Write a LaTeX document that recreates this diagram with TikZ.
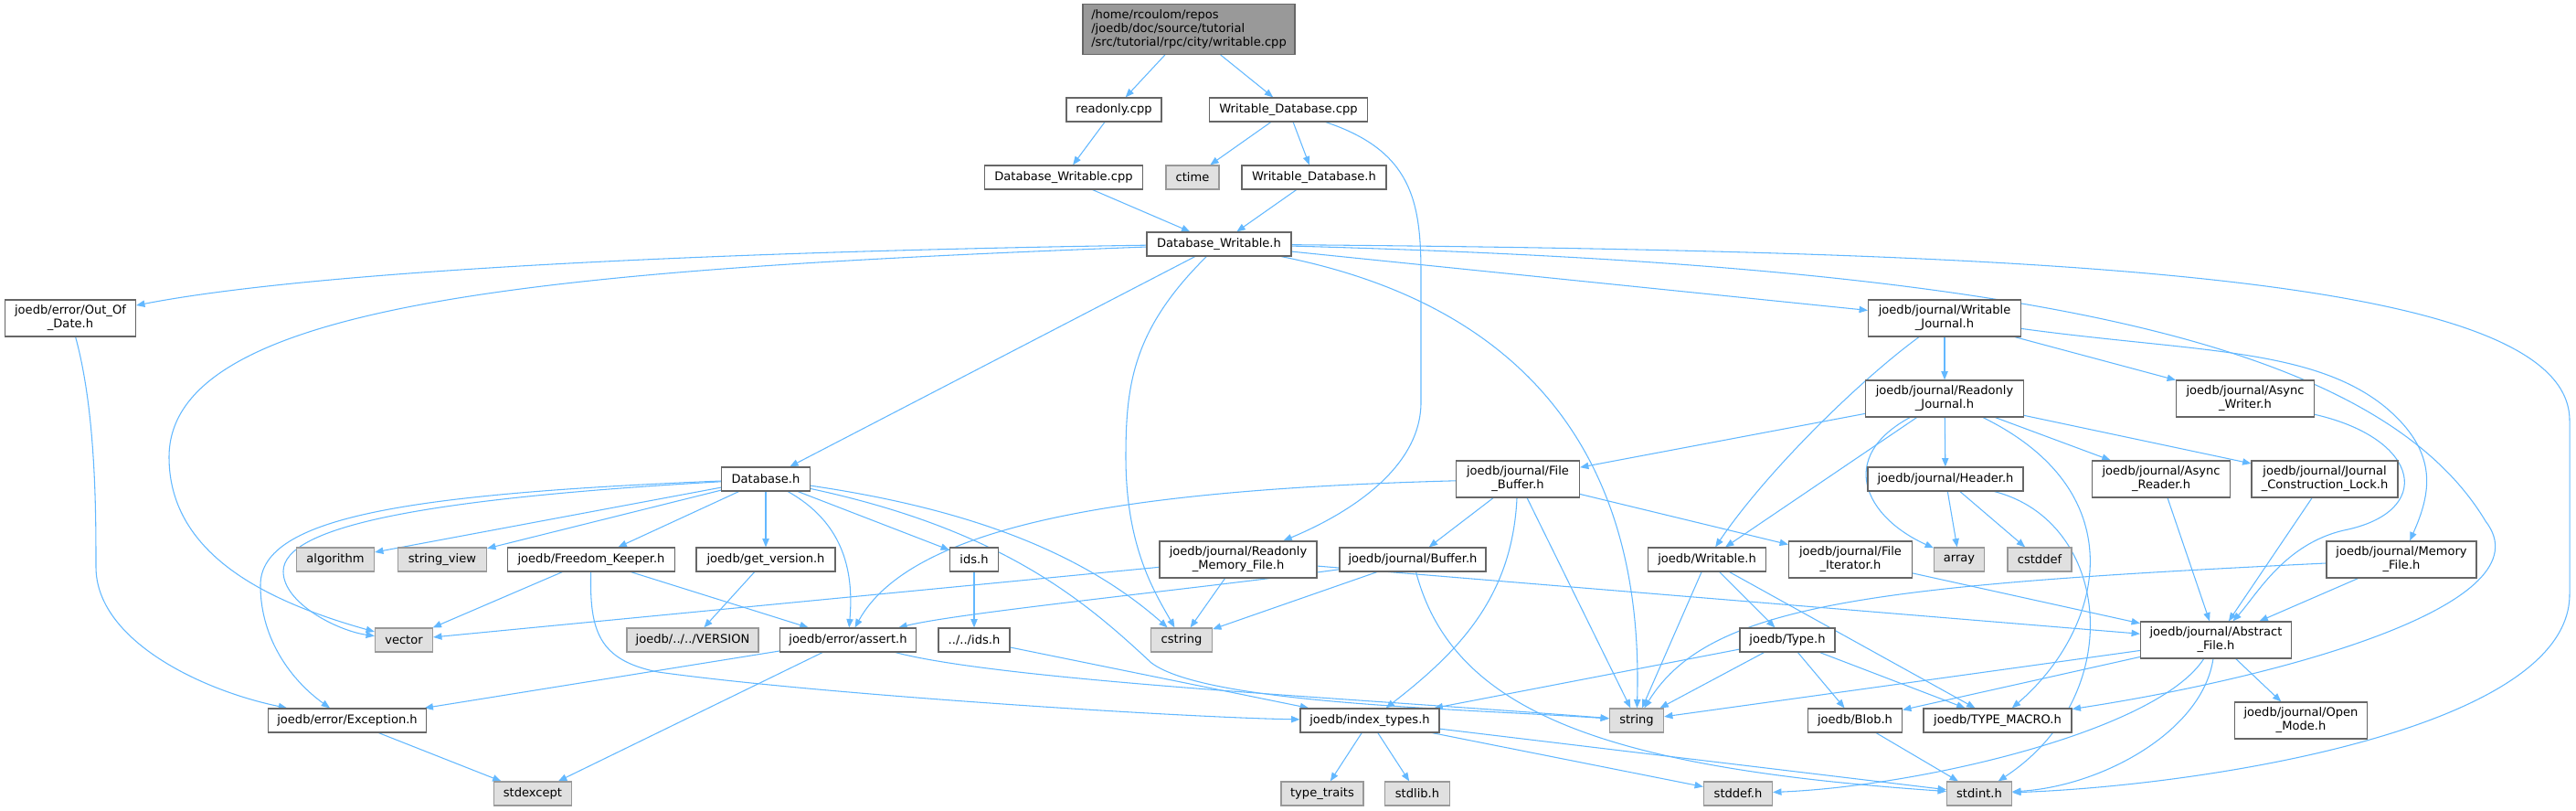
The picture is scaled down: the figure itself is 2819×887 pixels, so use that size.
\documentclass[tikz,border=0pt]{standalone}
\usepackage{fontspec}
\setmainfont{DejaVu Sans}
\usetikzlibrary{arrows.meta,backgrounds}

\definecolor{edgeblue}{HTML}{63B8FF}
\definecolor{boxline}{HTML}{666666}
\definecolor{sysline}{HTML}{999999}
\definecolor{sysfill}{HTML}{E0E0E0}
\definecolor{rootfill}{HTML}{999999}

\begin{document}
\begin{tikzpicture}[
		x=0.75pt, y=-0.75pt,
		>={Triangle[length=7pt,width=5.5pt]},
		file/.style = {draw=boxline, fill=white, line width=0.9pt, inner xsep=2pt, inner ysep=2pt,
			minimum height=19.5pt, align=center, font=\fontsize{9.8}{11.3}\selectfont},
		sys/.style = {file, draw=sysline, fill=sysfill},
		start/.style = {file, fill=rootfill, align=left, minimum height=41pt},
		two/.style = {minimum height=30pt},
		bw/.style = {minimum width=#1*0.75pt},
		dep/.style = {->, draw=edgeblue, line width=0.8pt}
	]
	\useasboundingbox (0,0) rectangle (2819,887);
	% files
	\node[start, bw=232] (root) at (1301,32) {/home/rcoulom/repos\\/joedb/doc/source/tutorial\\/src/tutorial/rpc/city/writable.cpp};
	\node[file, bw=104] (rocpp) at (1219,120) {readonly.cpp};
	\node[file, bw=173] (wdbcpp) at (1410,120) {Writable\_Database.cpp};
	\node[file, bw=173] (dwcpp) at (1164,194) {Database\_Writable.cpp};
	\node[sys, bw=58] (ctime) at (1305,194) {ctime};
	\node[file, bw=158] (wdbh) at (1438,194) {Writable\_Database.h};
	\node[file, bw=158] (dwh) at (1334,267) {Database\_Writable.h};
	\node[file, two, bw=143] (ood) at (77,348) {joedb/error/Out\_Of\\\_Date.h};
	\node[file, two, bw=167] (wj) at (2128,348) {joedb/journal/Writable\\\_Journal.h};
	\node[file, two, bw=173] (rj) at (2128,436) {joedb/journal/Readonly\\\_Journal.h};
	\node[file, two, bw=151] (aw) at (2457,436) {joedb/journal/Async\\\_Writer.h};
	\node[file, bw=97] (dbh) at (838,524) {Database.h};
	\node[file, two, bw=135] (fb) at (1661,524) {joedb/journal/File\\\_Buffer.h};
	\node[file, bw=170] (hdr) at (2129,524) {joedb/journal/Header.h};
	\node[file, two, bw=151] (ar) at (2365,524) {joedb/journal/Async\\\_Reader.h};
	\node[file, two, bw=160] (jcl) at (2544,524) {joedb/journal/Journal\\\_Construction\_Lock.h};
	\node[sys, bw=85] (alg) at (367,612) {algorithm};
	\node[sys, bw=97] (sv) at (484,612) {string\_view};
	\node[file, bw=183] (fk) at (647,612) {joedb/Freedom\_Keeper.h};
	\node[file, bw=152] (gv) at (838,612) {joedb/get\_version.h};
	\node[file, bw=53] (ids) at (1066,612) {ids.h};
	\node[file, two, bw=172] (rmf) at (1355,612) {joedb/journal/Readonly\\\_Memory\_File.h};
	\node[file, bw=160] (buf) at (1546,612) {joedb/journal/Buffer.h};
	\node[file, bw=129] (wr) at (1868,612) {joedb/Writable.h};
	\node[file, two, bw=135] (fi) at (2025,612) {joedb/journal/File\\\_Iterator.h};
	\node[sys, bw=55] (arr) at (2144,612) {array};
	\node[sys, bw=70] (cstddef) at (2232,612) {cstddef};
	\node[file, two, bw=164] (mf) at (2628,612) {joedb/journal/Memory\\\_File.h};
	\node[sys, bw=63] (vec) at (442,700) {vector};
	\node[sys, bw=144] (ver) at (758,700) {joedb/../../VERSION};
	\node[file, bw=149] (asrt) at (928,700) {joedb/error/assert.h};
	\node[file, bw=78] (ids2) at (1066,700) {../../ids.h};
	\node[sys, bw=67] (cstr) at (1293,700) {cstring};
	\node[file, bw=104] (typ) at (1956,700) {joedb/Type.h};
	\node[file, two, bw=165] (af) at (2425,700) {joedb/journal/Abstract\\\_File.h};
	\node[file, bw=173] (exc) at (380,788) {joedb/error/Exception.h};
	\node[file, bw=152] (it) at (1499,788) {joedb/index\_types.h};
	\node[sys, bw=59] (str) at (1791,788) {string};
	\node[file, bw=103] (blob) at (2030,788) {joedb/Blob.h};
	\node[file, bw=162] (tm) at (2186,788) {joedb/TYPE\_MACRO.h};
	\node[file, two, bw=145] (om) at (2518,788) {joedb/journal/Open\\\_Mode.h};
	\node[sys, bw=85] (sexc) at (583,868) {stdexcept};
	\node[sys, bw=90] (tt) at (1447,868) {type\_traits};
	\node[sys, bw=71] (sl) at (1551,868) {stdlib.h};
	\node[sys, bw=75] (sd) at (1902,868) {stddef.h};
	\node[sys, bw=71] (si) at (2166,868) {stdint.h};
	\begin{scope}[on background layer]
	% top
	\draw[dep] (root) -- (rocpp);
	\draw[dep] (root) -- (wdbcpp);
	\draw[dep] (rocpp) -- (dwcpp);
	\draw[dep] (wdbcpp) -- (ctime);
	\draw[dep] (wdbcpp) -- (wdbh);
	\draw[dep] (wdbcpp) .. controls (1545,165) and (1555,220) .. (1555,300) -- (1555,440) .. controls (1555,510) and (1480,560) .. (rmf);
	\draw[dep] (dwcpp) -- (dwh);
	\draw[dep] (wdbh) -- (dwh);
	% Database_Writable.h
	\draw[dep] (dwh) .. controls (800,275) and (350,295) .. (ood);
	\draw[dep] (dwh) .. controls (600,295) and (185,330) .. (185,500) .. controls (185,610) and (300,660) .. (vec);
	\draw[dep] (dwh) -- (dbh);
	\draw[dep] (dwh) .. controls (1240,360) and (1232,420) .. (1232,500) .. controls (1232,600) and (1265,650) .. (cstr);
	\draw[dep] (dwh) .. controls (1650,330) and (1800,480) .. (str);
	\draw[dep] (dwh) -- (wj);
	\draw[dep] (dwh) .. controls (2200,290) and (2600,370) .. (2720,570) .. controls (2790,660) and (2500,740) .. (tm);
	\draw[dep] (dwh) .. controls (2250,275) and (2812,300) .. (2812,460) -- (2812,650) .. controls (2812,800) and (2400,860) .. (si);
	\draw[dep] (ood) .. controls (105,450) and (105,560) .. (105,620) .. controls (105,700) and (220,755) .. (exc);
	% Database.h
	\draw[dep] (dbh) -- (alg);
	\draw[dep] (dbh) -- (sv);
	\draw[dep] (dbh) -- (fk);
	\draw[dep] (dbh) -- (gv);
	\draw[dep] (dbh) -- (ids);
	\draw[dep] (dbh) .. controls (920,570) and (935,620) .. (asrt);
	\draw[dep] (dbh) .. controls (1050,555) and (1180,600) .. (cstr);
	\draw[dep] (dbh) .. controls (1100,580) and (1190,660) .. (1260,725) .. controls (1320,770) and (1600,775) .. (str);
	\draw[dep] (dbh) .. controls (450,540) and (285,565) .. (285,640) .. controls (285,700) and (320,745) .. (exc);
	\draw[dep] (dbh) .. controls (470,545) and (310,575) .. (310,625) .. controls (310,660) and (370,690) .. (vec);
	\draw[dep] (fk) -- (vec);
	\draw[dep] (fk) -- (asrt);
	\draw[dep] (fk) .. controls (645,690) and (655,722) .. (720,735) .. controls (900,760) and (1300,785) .. (it);
	\draw[dep] (gv) -- (ver);
	\draw[dep] (ids) -- (ids2);
	\draw[dep] (ids2) -- (it);
	\draw[dep] (rmf) -- (vec);
	\draw[dep] (rmf) -- (cstr);
	\draw[dep] (rmf) -- (af);
	\draw[dep] (buf) .. controls (1300,645) and (1050,670) .. (asrt);
	\draw[dep] (buf) -- (cstr);
	\draw[dep] (buf) .. controls (1590,780) and (1760,840) .. (si);
	% journal
	\draw[dep] (wj) -- (rj);
	\draw[dep] (wj) -- (aw);
	\draw[dep] (wj) .. controls (2030,420) and (1930,520) .. (wr);
	\draw[dep] (wj) .. controls (2400,385) and (2530,380) .. (2610,445) .. controls (2670,495) and (2660,540) .. (mf);
	\draw[dep] (rj) -- (fb);
	\draw[dep] (rj) -- (wr);
	\draw[dep] (rj) .. controls (2010,500) and (2040,565) .. (arr);
	\draw[dep] (rj) -- (hdr);
	\draw[dep] (rj) -- (ar);
	\draw[dep] (rj) -- (jcl);
	\draw[dep] (rj) .. controls (2340,540) and (2300,690) .. (tm);
	\draw[dep] (aw) .. controls (2650,480) and (2665,560) .. (2565,580) .. controls (2500,595) and (2470,650) .. (af);
	\draw[dep] (ar) -- (af);
	\draw[dep] (jcl) -- (af);
	\draw[dep] (hdr) -- (arr);
	\draw[dep] (hdr) -- (cstddef);
	\draw[dep] (hdr) .. controls (2310,570) and (2330,760) .. (si);
	\draw[dep] (fb) .. controls (1250,535) and (1000,570) .. (asrt);
	\draw[dep] (fb) -- (buf);
	\draw[dep] (fb) .. controls (1655,650) and (1600,710) .. (it);
	\draw[dep] (fb) -- (str);
	\draw[dep] (fb) -- (fi);
	\draw[dep] (wr) -- (str);
	\draw[dep] (wr) -- (typ);
	\draw[dep] (wr) -- (tm);
	\draw[dep] (fi) -- (af);
	\draw[dep] (mf) .. controls (2050,640) and (1870,660) .. (str);
	\draw[dep] (mf) -- (af);
	\draw[dep] (typ) -- (it);
	\draw[dep] (typ) -- (str);
	\draw[dep] (typ) -- (blob);
	\draw[dep] (typ) -- (tm);
	\draw[dep] (af) -- (str);
	\draw[dep] (af) -- (blob);
	\draw[dep] (af) -- (om);
	\draw[dep] (af) .. controls (2360,800) and (2100,860) .. (sd);
	\draw[dep] (af) .. controls (2410,800) and (2300,860) .. (si);
	% bottom
	\draw[dep] (asrt) -- (exc);
	\draw[dep] (asrt) -- (sexc);
	\draw[dep] (asrt) .. controls (1100,745) and (1500,765) .. (str);
	\draw[dep] (exc) -- (sexc);
	\draw[dep] (it) -- (tt);
	\draw[dep] (it) -- (sl);
	\draw[dep] (it) -- (sd);
	\draw[dep] (it) -- (si);
	\draw[dep] (blob) -- (si);
	\end{scope}
\end{tikzpicture}
\end{document}
